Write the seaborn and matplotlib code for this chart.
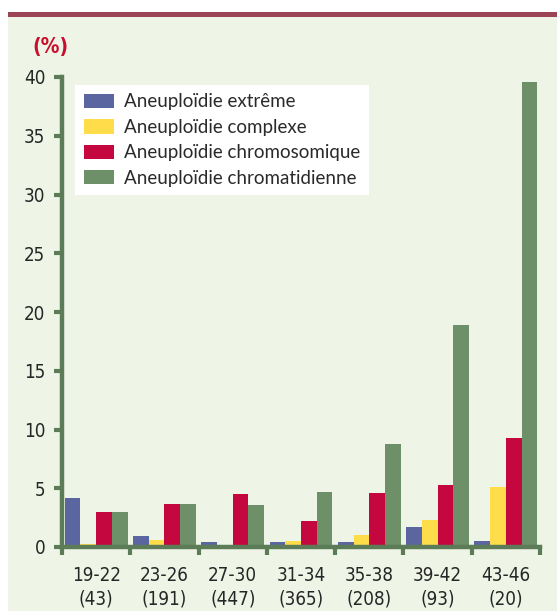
import matplotlib
matplotlib.use("Agg")
import matplotlib.pyplot as plt
from matplotlib.patches import Rectangle
import pandas as pd
import seaborn as sns

# values (%)
groups = ["19-22\n(43)", "23-26\n(191)", "27-30\n(447)", "31-34\n(365)",
          "35-38\n(208)", "39-42\n(93)", "43-46\n(20)"]
series = ["Aneuploïdie extrême", "Aneuploïdie complexe",
          "Aneuploïdie chromosomique", "Aneuploïdie chromatidienne"]
extreme = [4.2, 0.9, 0.45, 0.45, 0.45, 1.7, 0.5]
complexe = [0.25, 0.6, 0.2, 0.5, 1.0, 2.3, 5.1]
chromosomique = [3.0, 3.7, 4.5, 2.2, 4.6, 5.3, 9.25]
chromatidienne = [3.0, 3.7, 3.6, 4.7, 8.8, 18.9, 39.6]
colors = ["#5b659f", "#ffdd4a", "#c4073f", "#6d9068"]

bg = "#eef5e6"
axis_col = "#5c7c58"

rows = []
for name, vals in zip(series, [extreme, complexe, chromosomique, chromatidienne]):
    for g, v in zip(groups, vals):
        rows.append({"groupe": g, "serie": name, "valeur": v})
df = pd.DataFrame(rows)

sns.set_style("ticks")
legend_font = ["Lato", "DejaVu Sans"]

fig = plt.figure(figsize=(5.57, 6.11), dpi=100, facecolor="white")
fig.patches.append(Rectangle((8 / 557, 0), 1, 1 - 17 / 611, transform=fig.transFigure,
                             facecolor=bg, edgecolor="none", zorder=-10))
fig.patches.append(Rectangle((8 / 557, 1 - 17 / 611), 1, 5 / 611, transform=fig.transFigure,
                             facecolor="#9b4453", edgecolor="none", zorder=-10))

ax = fig.add_axes([62 / 557, 1 - 547 / 611, (540 - 62) / 557, (547 - 77) / 611])
ax.set_facecolor(bg)
ax.patch.set_alpha(0)

sns.barplot(data=df, x="groupe", y="valeur", hue="serie", palette=colors,
            width=0.92, ax=ax, saturation=1, linewidth=0)

ax.set_xlim(-0.5, 6.5)
ax.set_ylim(0, 40)
ax.set_yticks(range(0, 41, 5))
ax.set_xlabel("")
ax.set_ylabel("")
for s in ["top", "right"]:
    ax.spines[s].set_visible(False)
for s in ["left", "bottom"]:
    ax.spines[s].set_color(axis_col)
    ax.spines[s].set_linewidth(3.2)

ax.tick_params(axis="y", length=6, width=3, color=axis_col, pad=6,
               labelcolor="#262626")
ax.tick_params(axis="x", which="major", length=0, pad=14,
               labelcolor="#262626")
ax.set_xticks([i - 0.5 for i in range(8)], minor=True)
ax.tick_params(axis="x", which="minor", length=6, width=3, color=axis_col)
for lab in ax.get_xticklabels() + ax.get_yticklabels():
    lab.set_family("DejaVu Sans")
    lab.set_stretch("condensed")
    lab.set_fontsize(13.5)
for lab in ax.get_xticklabels():
    lab.set_linespacing(1.3)

leg = ax.legend(loc="upper left", bbox_to_anchor=(0.028, 0.983), frameon=True,
                fancybox=False, framealpha=1, edgecolor="none", facecolor="white",
                prop={"family": legend_font, "size": 13.5}, handlelength=1.6,
                handleheight=0.8, labelspacing=0.45, handletextpad=0.55,
                borderpad=0.45, borderaxespad=0)
for t in leg.get_texts():
    t.set_color("#2a2a2a")

fig.text(50 / 557, 1 - 47 / 611, "(%)", color="#c8102e", fontsize=15,
         fontweight="bold", ha="center", va="center", family="DejaVu Sans",
         stretch="condensed")

fig.savefig("out.png", dpi=100, facecolor="white")
